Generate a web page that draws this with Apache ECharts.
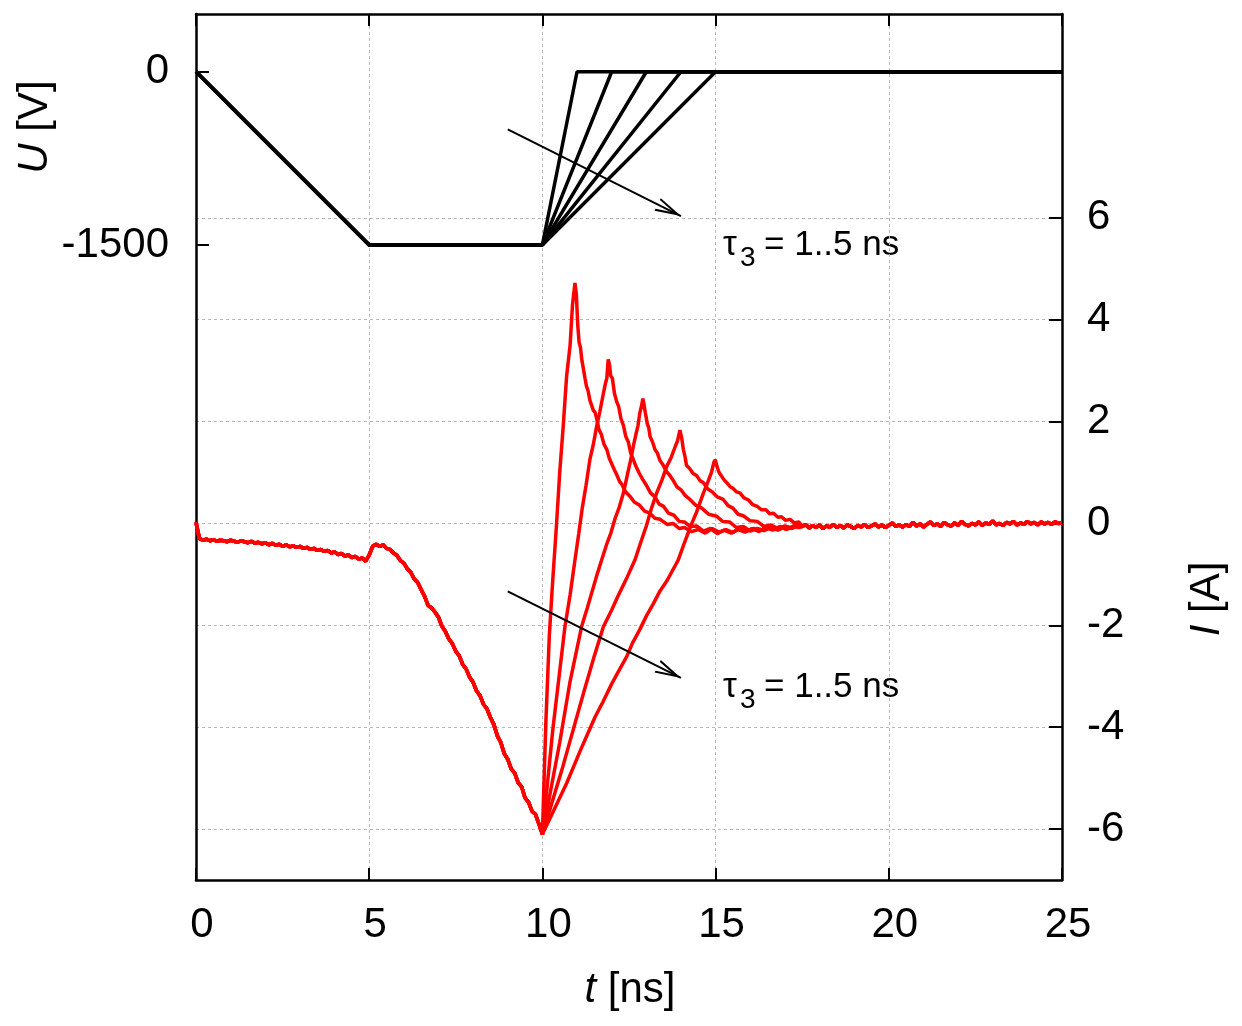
<!DOCTYPE html>
<html>
<head>
<meta charset="utf-8">
<script src="https://cdn.jsdelivr.net/npm/echarts@6/dist/echarts.min.js"></script>
<style>
html, body { margin: 0; padding: 0; background: #fff; }
#chart { width: 1242px; height: 1026px; }
</style>
</head>
<body>
<div id="chart"></div>
<script>
// voltage pulse U(t): ramp down, plateau, rise over tau3 = 1..5 ns
const tRamp = [0, 5, 10];
const uRamp = [0, -1500, -1500];
const tRiseEnd = [11, 12, 13, 14, 15];
const tEnd = 25;

// current I(t), shared part 0..10 ns sampled every 0.1 ns
const dtBase = 0.1;
const iBase = [
  0.02, -0.30, -0.33, -0.31, -0.34, -0.32, -0.35, -0.33, -0.34, -0.36,
  -0.33, -0.35, -0.37, -0.34, -0.36, -0.38, -0.35, -0.39, -0.37, -0.40,
  -0.38, -0.42, -0.39, -0.43, -0.41, -0.45, -0.42, -0.46, -0.44, -0.47,
  -0.45, -0.49, -0.47, -0.51, -0.49, -0.53, -0.51, -0.55, -0.53, -0.58,
  -0.56, -0.61, -0.59, -0.64, -0.62, -0.67, -0.65, -0.70, -0.68, -0.74,
  -0.62, -0.45, -0.41, -0.45, -0.42, -0.49, -0.51, -0.58, -0.63, -0.73,
  -0.78, -0.89, -0.96, -1.09, -1.16, -1.30, -1.43, -1.61, -1.66, -1.74,
  -1.84, -2.02, -2.12, -2.27, -2.36, -2.51, -2.60, -2.77, -2.86, -3.02,
  -3.12, -3.29, -3.38, -3.55, -3.64, -3.81, -3.95, -4.17, -4.30, -4.52,
  -4.63, -4.82, -4.90, -5.09, -5.17, -5.39, -5.47, -5.65, -5.71, -5.90,
  -6.10
];

// current after 10 ns, one list per tau3
const iRise1 = [[10.1,-3.9],[10.2,-2.2],[10.3,-1.1],[10.4,-0.1],[10.5,1.0],[10.6,1.9],[10.7,2.9],[10.8,3.5],[10.87,4.3],[10.94,4.72],
  [10.98,4.5],[11.02,3.9],[11.06,3.55],[11.1,3.45],[11.14,3.2],[11.18,3.05],[11.23,2.85],[11.27,2.7],[11.32,2.6],[11.37,2.42],
  [11.42,2.4],[11.47,2.22],[11.52,2.18],[11.57,2.05],[11.63,1.85],[11.7,1.75],[11.78,1.55],[11.86,1.45],[11.93,1.28],[12.0,1.17],
  [12.08,1.05],[12.15,0.95],[12.23,0.82],[12.3,0.76],[12.4,0.62],[12.53,0.53],[12.65,0.42],[12.8,0.36],[12.95,0.24],[13.1,0.2],
  [13.25,0.1],[13.4,0.08],[13.6,-0.02],[13.77,0.0],[13.95,-0.1],[14.1,-0.08],[14.3,-0.16],[14.5,-0.12],[14.7,-0.19],[14.9,-0.1],
  [15.1,-0.17],[15.3,-0.12],[15.5,-0.18],[15.7,-0.09],[15.9,-0.15],[16.1,-0.1],[16.3,-0.14],[16.5,-0.06],[16.7,-0.12],[16.9,-0.07],
  [17.1,-0.1],[17.3,-0.04]];
const iRise2 = [[10.3,-4.05],[10.5,-2.9],[10.65,-2.03],[10.8,-1.4],[10.94,-0.72],[11.05,-0.2],[11.15,0.3],[11.26,0.75],[11.37,1.25],[11.47,1.55],
  [11.57,1.92],[11.66,2.2],[11.76,2.55],[11.82,2.75],[11.86,2.85],[11.9,3.22],[11.94,3.1],[11.97,2.9],[12.02,2.85],[12.08,2.55],
  [12.15,2.38],[12.2,2.3],[12.27,2.05],[12.34,1.92],[12.41,1.7],[12.48,1.6],[12.55,1.38],[12.62,1.26],[12.7,1.12],[12.8,0.98],
  [12.9,0.86],[13.01,0.74],[13.12,0.6],[13.25,0.52],[13.37,0.38],[13.49,0.34],[13.64,0.2],[13.8,0.16],[13.95,0.04],[14.1,0.03],
  [14.26,-0.06],[14.45,-0.05],[14.65,-0.15],[14.85,-0.1],[15.05,-0.2],[15.25,-0.13],[15.45,-0.19],[15.65,-0.12],[15.85,-0.17],[16.05,-0.1],
  [16.25,-0.16],[16.45,-0.08],[16.65,-0.13],[16.85,-0.06],[17.05,-0.12],[17.25,-0.05],[17.4,-0.08]];
const iRise3 = [[10.5,-4.3],[10.8,-3.1],[11.13,-2.03],[11.3,-1.65],[11.45,-1.3],[11.58,-1.0],[11.71,-0.72],[11.86,-0.4],[11.98,-0.18],[12.1,0.1],
  [12.22,0.32],[12.34,0.6],[12.42,0.85],[12.5,1.1],[12.56,1.28],[12.62,1.5],[12.7,1.75],[12.76,1.92],[12.81,2.16],[12.86,2.3],
  [12.9,2.45],[12.93,2.35],[12.97,2.18],[13.03,1.95],[13.07,1.88],[13.11,1.7],[13.18,1.6],[13.25,1.45],[13.32,1.38],[13.39,1.24],
  [13.48,1.15],[13.58,1.02],[13.67,0.95],[13.77,0.85],[13.88,0.72],[14.0,0.66],[14.12,0.55],[14.26,0.47],[14.42,0.36],[14.6,0.3],
  [14.8,0.18],[15.03,0.14],[15.2,0.04],[15.4,0.03],[15.6,-0.08],[15.8,-0.06],[16.0,-0.15],[16.2,-0.1],[16.4,-0.14],[16.6,-0.08],
  [16.8,-0.13],[17.0,-0.07],[17.2,-0.1],[17.4,-0.04]];
const iRise4 = [[10.6,-4.75],[11.2,-3.3],[11.5,-2.6],[11.76,-2.03],[12.0,-1.7],[12.2,-1.4],[12.45,-1.05],[12.67,-0.72],[12.85,-0.35],[13.0,-0.05],
  [13.15,0.3],[13.3,0.6],[13.45,0.85],[13.59,1.12],[13.72,1.3],[13.83,1.5],[13.9,1.62],[13.97,1.83],[14.02,1.68],[14.07,1.45],
  [14.12,1.3],[14.16,1.14],[14.25,1.08],[14.35,0.98],[14.45,0.94],[14.55,0.84],[14.65,0.8],[14.77,0.68],[14.9,0.62],[15.05,0.52],
  [15.22,0.47],[15.36,0.35],[15.5,0.3],[15.65,0.18],[15.8,0.15],[16.0,0.05],[16.2,0.04],[16.4,-0.06],[16.6,-0.03],[16.8,-0.1],
  [17.0,-0.05],[17.2,-0.09],[17.4,-0.03]];
const iRise5 = [[10.7,-5.1],[11.1,-4.45],[11.52,-3.8],[11.75,-3.5],[12.0,-3.15],[12.2,-2.9],[12.43,-2.62],[12.6,-2.35],[12.8,-2.1],[13.0,-1.82],
  [13.2,-1.58],[13.4,-1.32],[13.6,-1.12],[13.76,-0.92],[13.92,-0.72],[14.1,-0.38],[14.3,-0.02],[14.45,0.22],[14.65,0.6],[14.78,0.82],
  [14.88,1.0],[14.95,1.2],[14.99,1.25],[15.04,1.12],[15.1,1.0],[15.17,0.93],[15.25,0.85],[15.32,0.8],[15.42,0.72],[15.5,0.69],
  [15.6,0.62],[15.7,0.6],[15.82,0.5],[15.95,0.46],[16.07,0.37],[16.19,0.34],[16.32,0.27],[16.45,0.27],[16.56,0.19],[16.67,0.2],
  [16.8,0.12],[16.9,0.13],[17.02,0.06],[17.15,0.08],[17.27,0.01],[17.4,0.03]];
const iRise = [iRise1, iRise2, iRise3, iRise4, iRise5];

// common tail 17.5..25 ns, every 0.1 ns
const tTail0 = 17.5;
const iTail = [
  -0.06, -0.02, -0.09, -0.04, -0.08, -0.03, -0.10, -0.05, -0.07, -0.02,
  -0.08, -0.04, -0.09, -0.03, -0.06, -0.10, -0.04, -0.07, -0.02, -0.08,
  -0.05, -0.01, -0.07, -0.03, -0.08, -0.04, 0.01, -0.06, -0.03, -0.07,
  -0.02, -0.06, 0.02, -0.05, -0.01, -0.07, -0.02, 0.03, -0.04, -0.01,
  -0.06, 0.02, -0.03, -0.05, 0.01, -0.04, 0.04, -0.02, -0.05, 0.00,
  -0.03, 0.03, -0.04, 0.01, -0.02, 0.05, -0.03, 0.00, -0.04, 0.02,
  -0.01, 0.04, -0.03, 0.01, -0.02, 0.04, -0.01, 0.02, -0.03, 0.03,
  -0.01, 0.02, -0.02, 0.03, 0.00, 0.01
];

// axis ticks
const uTicks = [-1500, 0];
const iTicks = [-6, -4, -2, 0, 2, 4, 6];

// annotation arrows (t, U)
const arrowU = [[[9, -500], [14, -1250]], [[9, -4500], [14, -5250]]];

const FONT = "'Liberation Sans', Arial, Helvetica, sans-serif";
const gridLine = { show: true, lineStyle: { color: '#b8b8b8', width: 1, type: [3, 3] } };
const chevron = 'path://M0,0 L0.01,0 Z M52,0 L51.99,0 Z M19,52 L26,26 L33,52 L30.9,52 L26,33.7 L21.1,52 Z';

const base = iBase.map((v, k) => [+(k * dtBase).toFixed(2), v]);
const tail = iTail.map((v, k) => [+(tTail0 + k * dtBase).toFixed(2), v]);

const series = [];
tRiseEnd.forEach(function (te) {
  const pts = tRamp.map((t, k) => [t, uRamp[k]]);
  pts.push([te, 0], [tEnd, 0]);
  series.push({
    type: 'line', xAxisIndex: 0, yAxisIndex: 0, data: pts,
    showSymbol: false, symbol: 'none', silent: true,
    lineStyle: { color: '#000', width: 3.5 }
  });
});
iRise.forEach(function (r) {
  series.push({
    type: 'line', xAxisIndex: 0, yAxisIndex: 1, data: base.concat(r, tail),
    showSymbol: false, symbol: 'none', silent: true,
    lineStyle: { color: '#ff0000', width: 3.5 }
  });
});
series.push({
  type: 'line', xAxisIndex: 0, yAxisIndex: 0, data: [], silent: true,
  markLine: {
    silent: true, animation: false,
    symbol: ['none', chevron], symbolSize: 52,
    label: { show: false },
    lineStyle: { color: '#000', width: 2, type: 'solid' },
    emphasis: { disabled: true },
    data: arrowU.map(a => [{ coord: a[0] }, { coord: a[1] }])
  }
});

const plain = v => String(v);

const chart = echarts.init(document.getElementById('chart'));
chart.setOption({
  animation: false,
  backgroundColor: '#fff',
  grid: { left: 196, right: 180, top: 14, bottom: 146, containLabel: false, outerBoundsMode: 'none' },
  xAxis: [{
    type: 'value', position: 'bottom', min: 0, max: 25, interval: 5,
    axisLine: { show: true, onZero: false, lineStyle: { color: '#000', width: 2.5 } },
    axisTick: { show: true, inside: true, length: 12, lineStyle: { color: '#000', width: 2 } },
    axisLabel: { color: '#000', fontSize: 42, fontFamily: FONT, margin: 24, padding: [0, 0, 0, 12], formatter: plain },
    splitLine: gridLine
  }, {
    type: 'value', position: 'top', min: 0, max: 25, interval: 5,
    axisLine: { show: true, onZero: false, lineStyle: { color: '#000', width: 2.5 } },
    axisTick: { show: true, inside: true, length: 12, lineStyle: { color: '#000', width: 2 } },
    axisLabel: { show: false },
    splitLine: { show: false }
  }],
  yAxis: [{
    type: 'value', position: 'left', min: -7000, max: 500, interval: 500,
    axisLine: { show: true, onZero: false, lineStyle: { color: '#000', width: 2.5 } },
    axisTick: { show: true, inside: true, length: 13, lineStyle: { color: '#000', width: 2 }, customValues: uTicks },
    axisLabel: { color: '#000', fontSize: 42, fontFamily: FONT, margin: 27, customValues: uTicks, formatter: plain },
    splitLine: { show: false }
  }, {
    type: 'value', position: 'right', min: -7, max: 10, interval: 1,
    axisLine: { show: true, onZero: false, lineStyle: { color: '#000', width: 2.5 } },
    axisTick: { show: true, inside: true, length: 13, lineStyle: { color: '#000', width: 2 }, customValues: iTicks },
    axisLabel: { color: '#000', fontSize: 42, fontFamily: FONT, margin: 25, customValues: iTicks, formatter: plain },
    splitLine: gridLine
  }],
  graphic: [
    { type: 'text', x: 35, y: 127, rotation: Math.PI / 2, silent: true,
      style: { text: '{i|U} [V]', fill: '#000', fontSize: 42, fontFamily: FONT, align: 'center', verticalAlign: 'middle',
        rich: { i: { fontStyle: 'italic', fontSize: 42, fontFamily: FONT } } } },
    { type: 'text', x: 1207, y: 599, rotation: Math.PI / 2, silent: true,
      style: { text: '{i|I} [A]', fill: '#000', fontSize: 42, fontFamily: FONT, align: 'center', verticalAlign: 'middle',
        rich: { i: { fontStyle: 'italic', fontSize: 42, fontFamily: FONT } } } },
    { type: 'text', x: 630, y: 990, silent: true,
      style: { text: '{i|t} [ns]', fill: '#000', fontSize: 42, fontFamily: FONT, align: 'center', verticalAlign: 'middle',
        rich: { i: { fontStyle: 'italic', fontSize: 42, fontFamily: FONT } } } },
    { type: 'text', x: 723, y: 245, silent: true,
      style: { text: 'τ', fill: '#000', fontSize: 35, fontFamily: FONT, align: 'left', verticalAlign: 'middle' } },
    { type: 'text', x: 740, y: 258, silent: true,
      style: { text: '3', fill: '#000', fontSize: 28, fontFamily: FONT, align: 'left', verticalAlign: 'middle' } },
    { type: 'text', x: 764, y: 245, silent: true,
      style: { text: '= 1..5 ns', fill: '#000', fontSize: 35, fontFamily: FONT, align: 'left', verticalAlign: 'middle' } },
    { type: 'text', x: 723, y: 687, silent: true,
      style: { text: 'τ', fill: '#000', fontSize: 35, fontFamily: FONT, align: 'left', verticalAlign: 'middle' } },
    { type: 'text', x: 740, y: 700, silent: true,
      style: { text: '3', fill: '#000', fontSize: 28, fontFamily: FONT, align: 'left', verticalAlign: 'middle' } },
    { type: 'text', x: 764, y: 687, silent: true,
      style: { text: '= 1..5 ns', fill: '#000', fontSize: 35, fontFamily: FONT, align: 'left', verticalAlign: 'middle' } }
  ],
  series: series
});
</script>
</body>
</html>
